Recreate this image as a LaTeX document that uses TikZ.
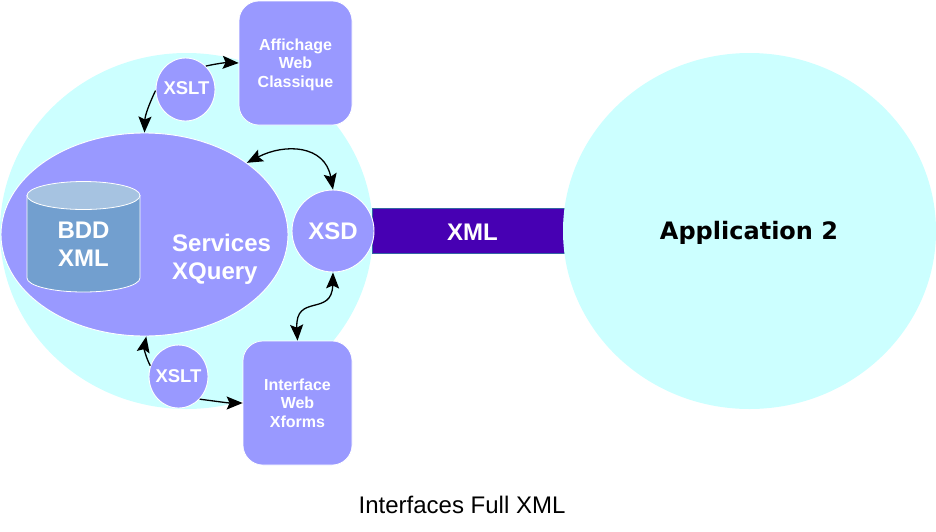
\documentclass[tikz,border=0pt]{standalone}
\usepackage{fontspec}
\setmainfont{Liberation Sans}
\newfontfamily\dejavu{DejaVu Sans}
\usetikzlibrary{shapes.geometric,arrows.meta}
\definecolor{lilac}{HTML}{9999FF}
\definecolor{palecyan}{HTML}{CCFFFF}
\definecolor{barpurple}{HTML}{4700B3}
\definecolor{barline}{HTML}{3465A4}
\definecolor{cylbody}{HTML}{729FCF}
\definecolor{cyltop}{HTML}{A6C3E1}
\tikzset{
  x=1pt,y=-1pt,
  bigcircle/.style={ellipse,fill=palecyan,minimum width=373pt,minimum height=356pt,inner sep=0pt},
  lilacell/.style={ellipse,draw=white,line width=0.9pt,fill=lilac,inner sep=0pt,text=white,align=center},
  lilacbox/.style={rectangle,rounded corners=20pt,draw=white,line width=0.7pt,fill=lilac,inner sep=0pt,text=white,align=center},
  wlabel/.style={text=white,inner sep=0pt,font=\bfseries\fontsize{24}{28}\selectfont},
  boxfont/.style={font=\bfseries\fontsize{16}{18.5}\selectfont},
  xsltlabel/.style={text=white,inner sep=0pt,font=\bfseries\fontsize{18.5}{20}\selectfont},
  link/.style={line width=1.3pt,black},
  headtip/.tip={Stealth[length=16pt,width=13pt,inset=3pt]},
}
\begin{document}
\begin{tikzpicture}
\useasboundingbox (0,0) rectangle (936,531);
\node[bigcircle] (app1) at (186.5,231) {};
\node[rectangle,draw=barline,line width=0.8pt,fill=barpurple,minimum width=192pt,minimum height=45pt,inner sep=0pt] (bar) at (468,230.5) {};
\node[wlabel] (barlabel) at (472.5,232) {XML};
\node[bigcircle] (app2) at (749.5,231) {};
\node[inner sep=0pt,text=black,font=\dejavu\bfseries\fontsize{24}{28}\selectfont] (app2label) at (749,232.5) {Application 2};
\node[lilacell,minimum width=287pt,minimum height=203pt] (services) at (144.5,234.5) {};
\draw[draw=white,line width=0.8pt,fill=cylbody] (27,195.5) -- (27,278) arc[start angle=180,end angle=360,x radius=56.5pt,y radius=14pt] -- (140,195.5) -- cycle;
\draw[draw=white,line width=0.8pt,fill=cyltop] (83.5,195.5) ellipse[x radius=56.5pt,y radius=14pt];
\node[wlabel,align=center] (bdd) at (83.5,244) {BDD\\XML};
\node[wlabel,align=left,anchor=west] (svc) at (172,259.5) {Services\\XQuery};
\node[lilacell,minimum width=59pt,minimum height=63pt] (xslta) at (185.5,89.5) {};
\node[xsltlabel] (xsltalabel) at (186.5,88.5) {XSLT};
\node[lilacbox,minimum width=113pt,minimum height=124pt,boxfont] (affichage) at (295.5,63) {\vphantom{A}\\[-15pt]Affichage\\Web\\Classique};
\node[lilacell,minimum width=82pt,minimum height=82pt,font=\bfseries\fontsize{24}{28}\selectfont] (xsd) at (333,231) {XSD};
\node[lilacell,minimum width=59pt,minimum height=63pt] (xsltb) at (178.5,376.5) {};
\node[xsltlabel] (xsltblabel) at (178.5,376.5) {XSLT};
\node[lilacbox,minimum width=109pt,minimum height=124pt,boxfont] (interface) at (297.5,403) {Interface\\Web\\Xforms};
\node[inner sep=0pt,font=\fontsize{24}{28}\selectfont] (caption) at (462,505) {Interfaces Full XML};
\draw[link,-headtip] (xslta.49) .. controls (217,63.5) and (227,62.5) .. (affichage.west);
\draw[link,-headtip] (xslta.182) .. controls (150,102) and (145,115) .. (services.90);
\draw[link,headtip-headtip] (services.35.6) .. controls (285,143) and (325,145) .. (xsd.north);
\draw[link,headtip-headtip] (xsd.south) .. controls (332,317) and (295,293) .. (interface.north);
\draw[link,-headtip] (xsltb.159) .. controls (146,358) and (144,348) .. (services.271);
\draw[link,-headtip] (xsltb.-47.5) .. controls (214,401) and (228,403) .. (interface.west);
\end{tikzpicture}
\end{document}
